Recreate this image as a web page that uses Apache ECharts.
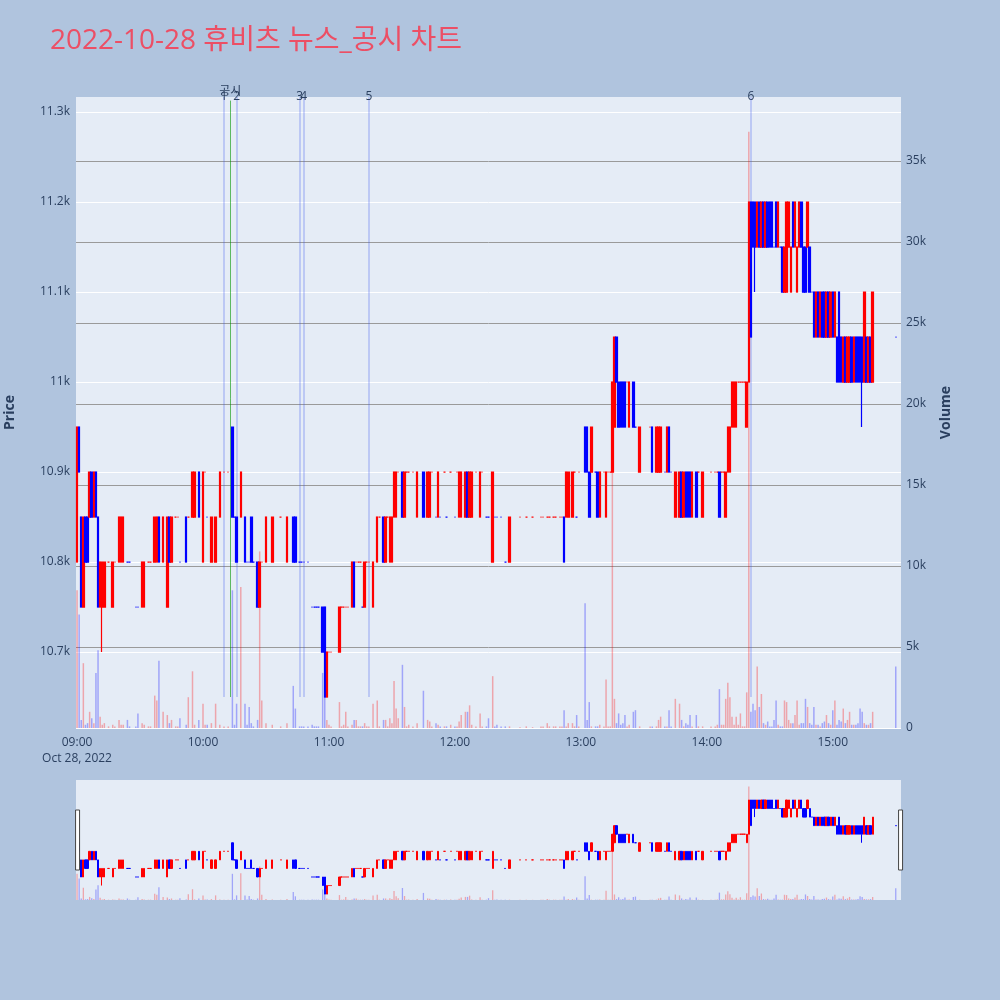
<!DOCTYPE html>
<html><head><meta charset="utf-8">
<script src="https://cdn.jsdelivr.net/npm/echarts@6/dist/echarts.min.js"></script>
<style>html,body{margin:0;padding:0;background:#b0c4de;}#c{width:1000px;height:1000px;}</style>
</head><body><div id="c"></div>
<script>
const titleText = '2022-10-28 휴비츠 뉴스_공시 차트';
const dateLabel = 'Oct 28, 2022';
const sessionStart = '09:00';
const sessionEnd = '15:32';
// [time, open, close, low, high, volume]
const trades = [
['09:00',10800,10950,10800,10950,8500],['09:01',10950,10900,10900,10950,7000],['09:02',10850,10750,10750,10850,500],
['09:03',10750,10850,10750,10850,4000],['09:04',10850,10800,10800,10850,200],['09:05',10850,10800,10800,10850,300],
['09:06',10850,10900,10850,10900,1000],['09:07',10900,10850,10850,10900,600],['09:08',10850,10900,10850,10900,300],
['09:09',10900,10850,10850,10900,3400],['09:10',10850,10750,10750,10850,4800],['09:11',10750,10800,10750,10800,700],
['09:12',10750,10800,10700,10800,200],['09:13',10750,10800,10750,10800,300],['09:15',10800,10800,10800,10800,100],
['09:17',10750,10800,10750,10800,200],['09:18',10800,10800,10800,10800,100],['09:20',10800,10850,10800,10850,500],
['09:21',10800,10850,10800,10850,200],['09:22',10800,10850,10800,10850,200],['09:24',10800,10800,10800,10800,500],
['09:25',10800,10800,10800,10800,100],['09:28',10750,10750,10750,10750,100],['09:29',10750,10750,10750,10750,900],
['09:31',10750,10800,10750,10800,300],['09:32',10750,10800,10750,10800,200],['09:34',10800,10800,10800,10800,100],
['09:35',10800,10800,10800,10800,100],['09:37',10800,10850,10800,10850,2000],['09:38',10800,10850,10800,10850,1700],
['09:39',10850,10800,10800,10850,4150],['09:41',10800,10850,10800,10850,1000],['09:43',10750,10850,10750,10850,800],
['09:44',10850,10800,10800,10850,300],['09:45',10800,10850,10800,10850,500],['09:47',10850,10850,10850,10850,100],
['09:48',10850,10850,10850,10850,100],['09:49',10800,10800,10800,10800,600],['09:52',10850,10800,10800,10850,200],
['09:53',10850,10850,10850,10850,1900],['09:55',10850,10900,10850,10900,3500],['09:56',10850,10900,10850,10900,200],
['09:58',10900,10850,10850,10900,500],['10:00',10800,10900,10800,10900,1500],['10:01',10900,10900,10900,10900,200],
['10:02',10850,10850,10850,10850,200],['10:04',10800,10850,10800,10850,300],['10:06',10800,10850,10800,10850,1500],
['10:08',10850,10900,10850,10900,200],['10:10',10900,10900,10900,10900,100],['10:12',10900,10900,10900,10900,100],
['10:14',10950,10850,10850,10950,8500],['10:15',10850,10850,10850,10850,200],['10:16',10850,10800,10800,10850,1500],
['10:18',10850,10900,10850,10900,8700],['10:20',10850,10800,10800,10850,1500],['10:21',10800,10800,10800,10800,200],
['10:22',10800,10800,10800,10800,1300],['10:23',10850,10800,10800,10850,300],['10:24',10800,10800,10800,10800,100],
['10:26',10800,10750,10750,10800,500],['10:27',10750,10800,10750,10800,10900],['10:28',10800,10800,10800,10800,1700],
['10:30',10800,10850,10800,10850,300],['10:33',10800,10850,10800,10850,200],['10:37',10850,10850,10850,10850,100],
['10:40',10800,10850,10800,10850,300],['10:43',10850,10800,10800,10850,2600],['10:44',10850,10800,10800,10850,1200],
['10:46',10800,10800,10800,10800,100],['10:47',10800,10800,10800,10800,100],['10:48',10800,10800,10800,10800,100],
['10:50',10800,10800,10800,10800,100],['10:52',10750,10750,10750,10750,200],['10:53',10750,10750,10750,10750,100],
['10:54',10750,10750,10750,10750,100],['10:55',10750,10750,10750,10750,100],['10:57',10750,10700,10700,10750,3400],
['10:58',10750,10650,10650,10750,4600],['10:59',10650,10700,10650,10700,500],['11:00',10700,10700,10700,10700,200],
['11:01',10700,10700,10700,10700,100],['11:05',10700,10750,10700,10750,1600],['11:06',10750,10750,10750,10750,100],
['11:07',10750,10750,10750,10750,200],['11:08',10750,10750,10750,10750,1000],['11:09',10750,10750,10750,10750,100],
['11:11',10750,10800,10750,10800,200],['11:12',10800,10750,10750,10800,500],['11:13',10800,10800,10800,10800,500],
['11:14',10800,10800,10800,10800,100],['11:15',10800,10800,10800,10800,100],['11:16',10750,10750,10750,10750,100],
['11:17',10750,10800,10750,10800,300],['11:18',10800,10800,10800,10800,100],['11:19',10800,10800,10800,10800,100],
['11:21',10750,10800,10750,10800,1500],['11:23',10800,10850,10800,10850,1700],['11:24',10850,10850,10850,10850,100],
['11:26',10850,10800,10800,10850,500],['11:27',10800,10850,10800,10850,500],['11:28',10850,10850,10850,10850,100],
['11:29',10800,10850,10800,10850,600],['11:30',10800,10850,10800,10850,300],['11:31',10850,10900,10850,10900,2900],
['11:32',10850,10900,10850,10900,1200],['11:33',10900,10900,10900,10900,600],['11:35',10900,10850,10850,10900,3900],
['11:36',10850,10900,10850,10900,1300],['11:37',10900,10900,10900,10900,100],['11:38',10900,10900,10900,10900,200],
['11:40',10900,10900,10900,10900,100],['11:42',10850,10900,10850,10900,300],['11:45',10900,10850,10850,10900,2300],
['11:47',10850,10900,10850,10900,500],['11:48',10850,10900,10850,10900,400],['11:49',10900,10900,10900,10900,100],
['11:51',10850,10850,10850,10850,300],['11:52',10850,10900,10850,10900,200],['11:53',10850,10850,10850,10850,100],
['11:55',10900,10900,10900,10900,100],['11:56',10850,10850,10850,10850,100],['11:58',10900,10900,10900,10900,200],
['12:00',10850,10850,10850,10850,100],['12:01',10900,10900,10900,10900,100],['12:02',10850,10900,10850,10900,400],
['12:03',10850,10900,10850,10900,800],['12:05',10850,10900,10850,10900,1000],['12:06',10900,10850,10850,10900,1000],
['12:07',10850,10900,10850,10900,1400],['12:08',10850,10900,10850,10900,200],['12:10',10900,10900,10900,10900,100],
['12:12',10850,10900,10850,10900,900],['12:13',10900,10900,10900,10900,100],['12:15',10850,10850,10850,10850,100],
['12:16',10850,10850,10850,10850,600],['12:18',10800,10900,10800,10900,3200],['12:19',10850,10850,10850,10850,100],
['12:20',10850,10850,10850,10850,200],['12:22',10850,10850,10850,10850,100],['12:24',10800,10800,10800,10800,100],
['12:26',10800,10850,10800,10850,100],['12:31',10850,10850,10850,10850,50],['12:34',10850,10850,10850,10850,100],
['12:37',10850,10850,10850,10850,50],['12:41',10850,10850,10850,10850,100],['12:42',10850,10850,10850,10850,100],
['12:44',10850,10850,10850,10850,300],['12:45',10850,10850,10850,10850,100],['12:47',10850,10850,10850,10850,100],
['12:48',10850,10850,10850,10850,100],['12:50',10850,10850,10850,10850,100],['12:51',10850,10850,10850,10850,100],
['12:52',10850,10800,10800,10850,1100],['12:53',10850,10900,10850,10900,100],['12:54',10850,10900,10850,10900,300],
['12:56',10850,10900,10850,10900,300],['12:57',10900,10900,10900,10900,100],['12:58',10850,10850,10850,10850,800],
['12:59',10900,10900,10900,10900,100],['13:02',10950,10900,10900,10950,7700],['13:03',10950,10900,10900,10950,500],
['13:04',10900,10850,10850,10900,1600],['13:05',10900,10950,10900,10950,100],['13:07',10900,10900,10900,10900,100],
['13:08',10900,10850,10850,10900,100],['13:09',10850,10900,10850,10900,200],['13:11',10900,10900,10900,10900,100],
['13:12',10850,10900,10850,10900,3000],['13:13',10900,10900,10900,10900,100],['13:14',10900,10900,10900,10900,100],
['13:15',10900,11000,10900,11000,21400],['13:16',10950,11050,10950,11050,1800],['13:17',11050,11000,11000,11050,300],
['13:18',11000,10950,10950,11000,900],['13:19',11000,10950,10950,11000,200],['13:20',11000,10950,10950,11000,300],
['13:21',11000,10950,10950,11000,800],['13:22',11000,11000,11000,11000,100],['13:23',10950,11000,10950,11000,200],
['13:25',11000,10950,10950,11000,1000],['13:26',10950,10950,10950,10950,1100],['13:28',10900,10950,10900,10950,100],
['13:33',10950,10950,10950,10950,100],['13:34',10950,10900,10900,10950,100],['13:36',10900,10950,10900,10950,100],
['13:37',10900,10950,10900,10950,500],['13:38',10900,10950,10900,10950,700],['13:40',10900,10900,10900,10900,100],
['13:41',10900,10950,10900,10950,100],['13:42',10950,10900,10900,10950,1100],['13:43',10900,10900,10900,10900,100],
['13:45',10850,10900,10850,10900,1800],['13:47',10850,10900,10850,10900,1500],['13:48',10900,10850,10850,10900,500],
['13:49',10850,10900,10850,10900,100],['13:50',10900,10850,10850,10900,300],['13:51',10900,10850,10850,10900,200],
['13:52',10900,10850,10850,10900,800],['13:53',10850,10900,10850,10900,100],['13:55',10900,10850,10850,10900,800],
['13:56',10900,10900,10900,10900,100],['13:58',10850,10900,10850,10900,100],['14:02',10900,10900,10900,10900,100],
['14:04',10900,10900,10900,10900,100],['14:05',10900,10900,10900,10900,200],['14:06',10900,10850,10850,10900,2400],
['14:07',10900,10900,10900,10900,200],['14:08',10900,10900,10900,10900,200],['14:09',10850,10900,10850,10900,1800],
['14:10',10900,10950,10900,10950,2800],['14:11',10900,10950,10900,10950,1900],['14:12',10950,11000,10950,11000,700],
['14:13',10950,11000,10950,11000,200],['14:14',10950,11000,10950,11000,700],['14:15',11000,11000,11000,11000,200],
['14:16',11000,11000,11000,11000,900],['14:17',11000,11000,11000,11000,100],['14:18',11000,11000,11000,11000,100],
['14:19',10950,11000,10950,11000,2200],['14:20',11000,11200,11000,11200,36800],['14:21',11200,11050,11050,11200,1000],
['14:22',11200,11150,11150,11200,1500],['14:23',11200,11150,11100,11200,1100],['14:24',11150,11200,11150,11200,3800],
['14:25',11200,11150,11150,11200,1300],['14:26',11150,11200,11150,11200,2100],['14:27',11200,11150,11150,11200,300],
['14:28',11150,11200,11150,11200,200],['14:29',11200,11150,11150,11200,400],['14:30',11200,11150,11150,11200,100],
['14:31',11200,11150,11150,11200,100],['14:32',11150,11150,11150,11150,500],['14:33',11200,11150,11150,11200,1700],
['14:34',11150,11200,11150,11200,200],['14:35',11150,11150,11150,11150,100],['14:36',11150,11100,11100,11150,100],
['14:37',11100,11150,11100,11150,1700],['14:38',11100,11200,11100,11200,1600],['14:39',11150,11200,11150,11200,500],
['14:40',11100,11150,11100,11150,300],['14:41',11200,11150,11150,11200,300],['14:42',11150,11200,11150,11200,800],
['14:43',11100,11150,11100,11150,1700],['14:44',11150,11200,11150,11200,200],['14:45',11200,11150,11150,11200,300],
['14:46',11150,11100,11100,11150,300],['14:47',11150,11100,11100,11150,1800],['14:48',11150,11200,11150,11200,1300],
['14:49',11150,11100,11100,11150,300],['14:50',11100,11100,11100,11100,200],['14:51',11100,11050,11050,11100,1300],
['14:52',11050,11100,11050,11100,200],['14:53',11100,11050,11050,11100,200],['14:54',11050,11100,11050,11100,100],
['14:55',11100,11050,11050,11100,300],['14:56',11100,11050,11050,11100,400],['14:57',11050,11100,11050,11100,800],
['14:58',11100,11050,11050,11100,300],['14:59',11050,11100,11050,11100,200],['15:00',11100,11050,11050,11100,1100],
['15:01',11050,11100,11050,11100,1700],['15:02',11050,11000,11000,11050,200],['15:03',11100,11000,11000,11100,500],
['15:04',11050,11000,11000,11050,400],['15:05',11000,11050,11000,11050,1200],['15:06',11050,11000,11000,11050,300],
['15:07',11000,11050,11000,11050,500],['15:08',11000,11050,11000,11050,1000],['15:09',11050,11000,11000,11050,200],
['15:10',11000,11050,11000,11050,200],['15:11',11050,11000,11000,11050,200],['15:12',11050,11000,11000,11050,300],
['15:13',11050,11000,11000,11050,1200],['15:14',11050,11000,10950,11050,1000],['15:15',11000,11100,11000,11100,300],
['15:16',11050,11000,11000,11050,200],['15:17',11000,11050,11000,11050,200],['15:18',11050,11000,11000,11050,300],
['15:19',11000,11100,11000,11100,1000],['15:30',11050,11050,11050,11050,3800]
];
const priceTicks = [10700,10800,10900,11000,11100,11200,11300];
const priceTickLabels = ['10.7k','10.8k','10.9k','11k','11.1k','11.2k','11.3k'];
const volumeTicks = [0,5000,10000,15000,20000,25000,30000,35000];
const volumeTickLabels = ['0','5k','10k','15k','20k','25k','30k','35k'];
const newsMarks = [['10:10','1'],['10:16','2'],['10:46','3'],['10:48','4'],['11:19','5'],['14:21','6']];
const disclosureMarks = [['10:13','공시']];
const priceRange = [10615.6, 11316.7];
const volumeRange = [0, 38950];
const newsLineBottom = 10650;

const FONT = "'Open Sans', 'Noto Sans CJK KR', sans-serif";
const UP = '#ff0000', DOWN = '#0000ff';
const UPV = 'rgba(255,0,0,0.3)', DOWNV = 'rgba(0,0,255,0.3)';

function toMin(t){const p=t.split(':');return +p[0]*60 + +p[1];}
function pad(n){return (n<10?'0':'')+n;}
const categories = [];
for (let m = toMin(sessionStart); m <= toMin(sessionEnd); m++) categories.push(pad(Math.floor(m/60))+':'+pad(m%60));

const byTime = {};
let prevClose = null, prevDir = 1;
trades.forEach(r => {
  const o=r[1], c=r[2];
  let d;
  if (c>o) d=1; else if (c<o) d=-1;
  else if (prevClose!==null && c>prevClose) d=1;
  else if (prevClose!==null && c<prevClose) d=-1;
  else d=prevDir;
  prevDir=d; prevClose=c;
  byTime[r[0]] = {row:r, dir:d};
});
const candleData = categories.map(t => {
  const e = byTime[t];
  if (!e) return ['-','-','-','-'];
  const col = e.dir>0?UP:DOWN;
  return {value:[e.row[1],e.row[2],e.row[3],e.row[4]],
    itemStyle:{color:col,color0:col,borderColor:col,borderColor0:col,borderColorDoji:col}};
});
const volData = categories.map(t => {
  const e = byTime[t];
  if (!e) return '-';
  return {value:e.row[5], itemStyle:{color:e.dir>0?UPV:DOWNV}};
});

const labelColor = '#2a3f5f';
const option = {
  backgroundColor:'#b0c4de',
  animation:false,
  textStyle:{fontFamily:FONT},
  title:{text:titleText,left:45,top:22,textStyle:{color:'#ec4f65',fontSize:28,fontWeight:'normal',fontFamily:FONT}},
  grid:[
    {left:76,width:825,top:97,height:631,show:true,backgroundColor:'#e5ecf6',borderWidth:0,containLabel:false,outerBoundsMode:'none'},
    {left:76,width:825,top:780,height:120,show:true,backgroundColor:'#e5ecf6',borderWidth:0,containLabel:false,outerBoundsMode:'none'}
  ],
  xAxis:[
    {type:'category',gridIndex:0,data:categories,boundaryGap:true,
     axisLine:{show:false},axisTick:{show:false},splitLine:{show:false},
     axisLabel:{interval:(i)=> i%60===0 && i<=360, formatter:(v,i)=> i===0 ? v+'\n'+dateLabel : v,
       color:labelColor,fontSize:12,margin:7,lineHeight:16,fontFamily:FONT}},
    {type:'category',gridIndex:1,data:categories,boundaryGap:true,show:false}
  ],
  yAxis:[
    {type:'value',gridIndex:0,position:'left',min:priceRange[0],max:priceRange[1],
     name:'Price',nameLocation:'middle',nameGap:59,
     nameTextStyle:{color:labelColor,fontSize:14,fontWeight:'bold',fontFamily:FONT},
     axisLine:{show:false},axisTick:{show:false},splitLine:{show:false},
     axisLabel:{customValues:priceTicks,formatter:v=>{const i=priceTicks.indexOf(v);return i>=0?priceTickLabels[i]:'';},
       color:labelColor,fontSize:12,margin:6,fontFamily:FONT}},
    {type:'value',gridIndex:0,position:'right',min:volumeRange[0],max:volumeRange[1],
     name:'Volume',nameLocation:'middle',nameGap:38,
     nameTextStyle:{color:labelColor,fontSize:14,fontWeight:'bold',fontFamily:FONT},
     axisLine:{show:false},axisTick:{show:false},splitLine:{show:false},
     axisLabel:{customValues:volumeTicks,formatter:v=>{const i=volumeTicks.indexOf(v);return i>=0?volumeTickLabels[i]:'';},
       color:labelColor,fontSize:12,margin:5,fontFamily:FONT}},
    {type:'value',gridIndex:1,min:priceRange[0],max:priceRange[1],show:false,splitLine:{show:false}},
    {type:'value',gridIndex:1,min:volumeRange[0],max:volumeRange[1],show:false,splitLine:{show:false}}
  ],
  dataZoom:[{
    type:'slider',xAxisIndex:[1],filterMode:'none',start:0,end:100,
    left:76,right:99,top:780,height:120,
    showDataShadow:false,showDetail:false,brushSelect:false,
    backgroundColor:'rgba(0,0,0,0)',borderColor:'rgba(0,0,0,0)',fillerColor:'rgba(0,0,0,0)',
    handleIcon:'path://M0,0 L4,0 L4,60 L0,60 Z',handleSize:'50%',
    handleStyle:{color:'#ffffff',borderColor:'#444444',borderWidth:1},
    moveHandleSize:0,
    dataBackground:{lineStyle:{opacity:0},areaStyle:{opacity:0}},
    selectedDataBackground:{lineStyle:{opacity:0},areaStyle:{opacity:0}}
  }],
  series:[
    {type:'line',name:'priceGrid',xAxisIndex:0,yAxisIndex:0,data:[],silent:true,
     markLine:{silent:true,symbol:'none',z:0,label:{show:false},animation:false,
       lineStyle:{color:'#ffffff',width:1,type:'solid'},
       data:priceTicks.map(v=>({yAxis:v}))}},
    {type:'bar',name:'Volume',xAxisIndex:0,yAxisIndex:1,z:2,barWidth:1.5,data:volData,silent:true,
     markLine:{silent:true,symbol:'none',z:1,label:{show:false},animation:false,
       lineStyle:{color:'#9a9a9a',width:1,type:'solid'},
       data:volumeTicks.map(v=>v===0?{yAxis:v,lineStyle:{color:'#ffffff'}}:{yAxis:v})}},
    {type:'line',name:'news',xAxisIndex:0,yAxisIndex:0,data:[],silent:true,
     markLine:{silent:true,symbol:'none',z:2,animation:false,
       label:{show:true,position:'end',formatter:'{b}',color:labelColor,fontSize:12,fontFamily:FONT,distance:-6},
       lineStyle:{color:'rgba(60,90,240,0.32)',width:1.5,type:'solid'},
       data:newsMarks.map(n=>[{name:n[1],coord:[n[0],newsLineBottom]},{coord:[n[0],priceRange[1]]}])
         .concat(disclosureMarks.map(n=>[{name:n[1],coord:[n[0],newsLineBottom],lineStyle:{color:'rgba(0,150,0,0.6)',width:1},
            label:{distance:3}},{coord:[n[0],priceRange[1]-4]}]))}},
    {type:'candlestick',name:'Price',xAxisIndex:0,yAxisIndex:0,z:3,barWidth:2,data:candleData,silent:true,
     itemStyle:{borderWidth:1.2}},
    {type:'bar',name:'VolumeMini',xAxisIndex:1,yAxisIndex:3,z:2,barWidth:1.3,data:volData,silent:true},
    {type:'candlestick',name:'PriceMini',xAxisIndex:1,yAxisIndex:2,z:3,barWidth:1.8,data:candleData,silent:true,
     itemStyle:{borderWidth:1}}
  ]
};
const chart = echarts.init(document.getElementById('c'),null,{renderer:'canvas'});
chart.setOption(option);
</script>
</body></html>
